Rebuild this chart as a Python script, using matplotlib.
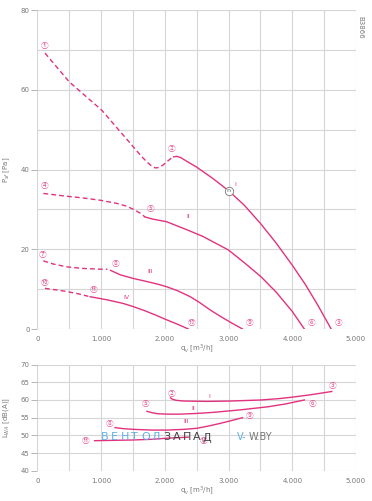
import matplotlib
matplotlib.use("Agg")
import matplotlib.pyplot as plt
from matplotlib.ticker import FuncFormatter, MultipleLocator

PINK = "#e2327f"
GRID = "#d6d6d6"
TXT = "#777777"

# --- pressure curves P_sf [Pa] over q_v [m3/h] ---
p1_dash_q = [120, 500, 1010, 1500, 1640, 1720, 1790, 1850, 1910, 1970, 2030, 2090, 2140]
p1_dash_p = [69.2, 62.0, 54.9, 45.8, 43.2, 41.9, 40.9, 40.4, 40.5, 41.1, 41.9, 42.7, 43.2]
pI_q = [2140, 2190, 2250, 2330, 2500, 2750, 3000, 3250, 3500, 3750, 4000, 4200, 4400, 4610]
pI_p = [43.2, 43.3, 43.0, 42.2, 40.6, 37.8, 34.7, 31.0, 26.5, 21.5, 16.0, 11.3, 6.0, 0]

p4_dash_q = [95, 300, 460, 700, 985, 1250, 1400, 1510, 1610, 1690]
p4_dash_p = [34.0, 33.6, 33.3, 32.9, 32.3, 31.5, 30.8, 30.0, 29.1, 28.1]
pII_q = [1690, 1800, 2030, 2330, 2600, 3000, 3250, 3510, 3750, 4000, 4190]
pII_p = [28.1, 27.6, 26.9, 25.0, 23.2, 19.8, 16.6, 13.1, 9.2, 4.4, 0]

p7_dash_q = [95, 250, 460, 700, 985, 1100]
p7_dash_p = [17.1, 16.3, 15.6, 15.2, 15.0, 15.0]
pIII_q = [1150, 1300, 1500, 1720, 1900, 2030, 2200, 2400, 2550, 2710, 2900, 3050, 3220]
pIII_p = [14.7, 13.6, 12.7, 11.9, 11.2, 10.6, 9.6, 8.1, 6.6, 4.8, 2.9, 1.5, 0]

p10_dash_q = [120, 300, 460, 650, 800]
p10_dash_p = [10.2, 9.8, 9.4, 8.8, 8.2]
pIV_q = [830, 1100, 1350, 1510, 1700, 1870, 2030, 2200, 2370]
pIV_p = [8.1, 7.3, 6.4, 5.6, 4.5, 3.4, 2.3, 1.2, 0]

# --- sound power L_WA [dB(A)] ---
lI_q = [2090, 2120, 2180, 2300, 2660, 3020, 3510, 3800, 4000, 4300, 4620]
lI_l = [60.6, 60.2, 59.9, 59.7, 59.6, 59.7, 60.0, 60.4, 60.8, 61.5, 62.4]
lII_q = [1720, 1800, 1900, 2050, 2240, 2500, 2760, 3180, 3630, 3900, 4190]
lII_l = [56.8, 56.4, 56.1, 56.0, 56.0, 56.2, 56.5, 57.2, 58.1, 58.9, 60.0]
lIII_q = [1220, 1350, 1510, 1800, 2030, 2300, 2500, 2700, 2870, 3050, 3220]
lIII_l = [52.2, 51.9, 51.7, 51.5, 51.5, 51.7, 52.0, 52.7, 53.4, 54.2, 55.0]
lIV_q = [900, 1200, 1500, 1800, 2030, 2370]
lIV_l = [48.5, 48.6, 48.7, 48.9, 49.2, 49.5]

circled = ["①", "②", "③", "④", "⑤", "⑥", "⑦", "⑧", "⑨", "⑩", "⑪", "⑫"]
top_circ_pos = [(121, 70.9), (2099, 45.1), (4720, 1.5), (121, 35.8), (1769, 30.1),
                (4296, 1.5), (89, 18.5), (1220, 16.3), (3323, 1.5), (121, 11.5),
                (890, 9.8), (2414, 1.5)]
bot_circ = ["②", "③", "⑤", "⑥", "⑧", "⑨", "⑪", "⑫"]
bot_circ_pos = [(2099, 61.7), (4626, 64.0), (1691, 58.9), (4312, 58.9),
                (1126, 53.2), (3323, 55.5), (750, 48.4), (2601, 48.4)]
roman = ["I", "II", "III", "IV"]
top_roman_pos = [(3100, 36.3), (2366, 28.1), (1769, 14.3), (1391, 8.0)]
bot_roman_pos = [(2695, 61.1), (2440, 57.7), (2334, 53.9)]

fig = plt.figure(figsize=(3.72, 5.01), dpi=100)
ax1 = fig.add_axes([0.1003, 0.3433, 0.8567, 0.6367])
ax2 = fig.add_axes([0.1003, 0.0603, 0.8567, 0.212])

fmt = FuncFormatter(lambda v, p: "0" if v == 0 else f"{int(v):,}".replace(",", "."))
dash = (0, (3.5, 2.2))
cjk = ["Noto Sans CJK JP", "DejaVu Sans"]

for ax in (ax1, ax2):
    ax.set_xlim(0, 5000)
    ax.xaxis.set_major_locator(MultipleLocator(1000))
    ax.xaxis.set_minor_locator(MultipleLocator(500))
    ax.xaxis.set_major_formatter(fmt)
    ax.grid(True, which="both", color=GRID, lw=0.8)
    for s in ax.spines.values():
        s.set_visible(False)
    ax.tick_params(axis="x", which="both", length=0, pad=5, labelsize=5, labelcolor=TXT)
    ax.tick_params(axis="y", which="major", length=4, color="#aaaaaa", width=0.6,
                   labelsize=5, labelcolor=TXT, pad=1.5)
    ax.tick_params(axis="y", which="minor", length=0)
    ax.set_axisbelow(True)

ax1.set_ylim(0, 80)
ax1.yaxis.set_major_locator(MultipleLocator(20))
ax1.yaxis.set_minor_locator(MultipleLocator(10))
ax2.set_ylim(40, 70)
ax2.yaxis.set_major_locator(MultipleLocator(5))

# top chart
for q, p in [(p1_dash_q, p1_dash_p), (p4_dash_q, p4_dash_p),
             (p7_dash_q, p7_dash_p), (p10_dash_q, p10_dash_p)]:
    ax1.plot(q, p, color=PINK, lw=1.0, linestyle=dash)
for q, p in [(pI_q, pI_p), (pII_q, pII_p), (pIII_q, pIII_p), (pIV_q, pIV_p)]:
    ax1.plot(q, p, color=PINK, lw=1.0, solid_joinstyle="round")

for lab, (x, y) in zip(circled, top_circ_pos):
    ax1.text(x, y, lab, color=PINK, fontsize=5.5, ha="center", va="center",
             family=cjk, alpha=0.85)
for lab, (x, y) in zip(roman, top_roman_pos):
    ax1.text(x, y, lab, color=PINK, fontsize=4.5, ha="center", va="center")
ax1.plot([3000], [34.7], marker="o", ms=6, mfc="white", mec="#777777", mew=0.6)
ax1.text(3000, 34.7, "n", fontsize=4.5, color="#555555", ha="center", va="center")

ax1.set_ylabel(r"P$_{sf}$ [Pa]", fontsize=5, color=TXT, labelpad=6)
ax1.set_xlabel(r"q$_v$ [m$^3$/h]", fontsize=5, color=TXT, labelpad=0)
ax1.text(1.015, 0.98, "B3866", transform=ax1.transAxes, rotation=270,
         fontsize=5, color=TXT, ha="center", va="top")

# bottom chart
for q, l in [(lI_q, lI_l), (lII_q, lII_l), (lIII_q, lIII_l), (lIV_q, lIV_l)]:
    ax2.plot(q, l, color=PINK, lw=1.0, solid_joinstyle="round")
for lab, (x, y) in zip(bot_circ, bot_circ_pos):
    ax2.text(x, y, lab, color=PINK, fontsize=5.5, ha="center", va="center",
             family=cjk, alpha=0.85)
for lab, (x, y) in zip(roman, bot_roman_pos):
    ax2.text(x, y, lab, color=PINK, fontsize=4.5, ha="center", va="center")
ax2.set_ylabel(r"L$_{WA}$ [dB(A)]", fontsize=5, color=TXT, labelpad=6)
ax2.set_xlabel(r"q$_v$ [m$^3$/h]", fontsize=5, color=TXT, labelpad=0)

# watermark
wy = 1 - 437.5 / 501
for i, ch in enumerate("ВЕНТОЛ"):
    fig.text((101 + 10 * i) / 372, wy, ch, color="#62aee8", fontsize=8,
             ha="left", va="center")
for i, ch in enumerate("ЗАПАД"):
    fig.text((163 + 10 * i) / 372, wy, ch, color="#404040", fontsize=8,
             ha="left", va="center")
fig.text(237 / 372, wy, "V-", color="#62aee8", fontsize=7, ha="left", va="center")
fig.text(249 / 372, wy, "W.BY", color="#777777", fontsize=7, ha="left", va="center")

fig.savefig("out.png", dpi=100)
